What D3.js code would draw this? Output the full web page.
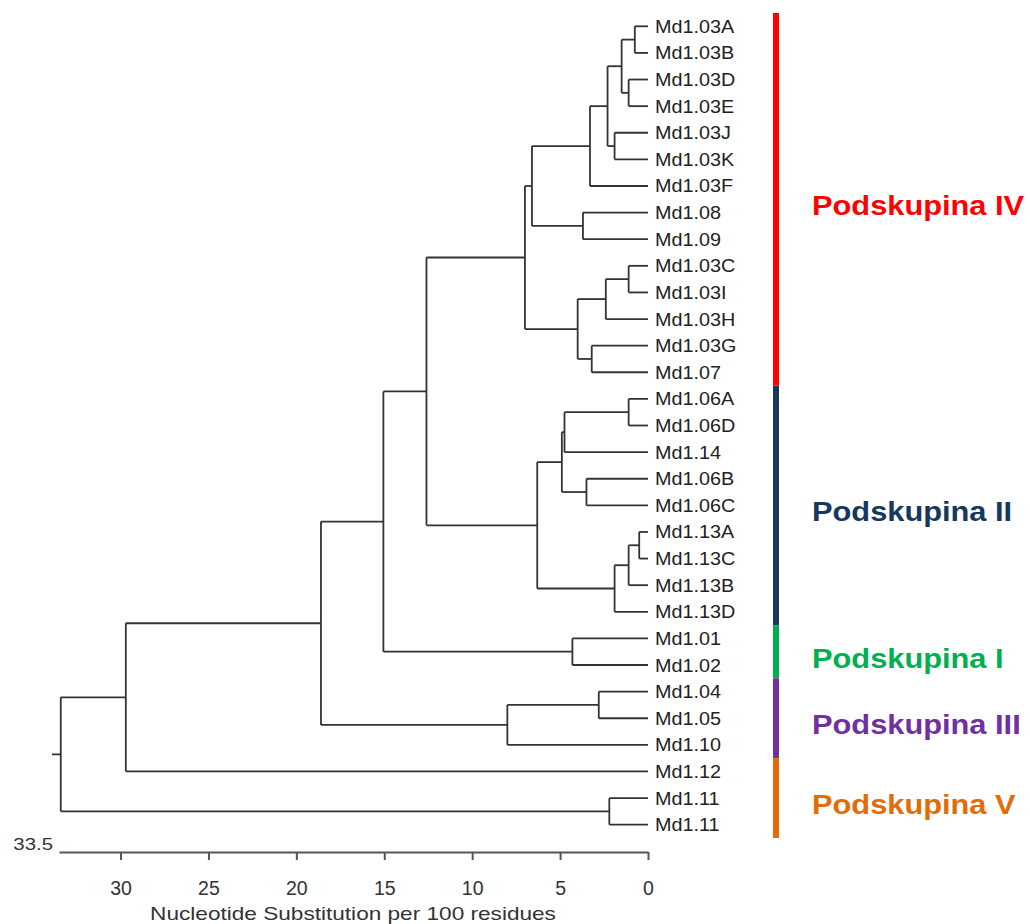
<!DOCTYPE html>
<html>
<head>
<meta charset="utf-8">
<script src="https://cdn.jsdelivr.net/npm/d3@7"></script>
<style>
  body { margin: 0; background: #fff; }
  svg { display: block; font-family: "Liberation Sans", Arial, sans-serif; }
</style>
</head>
<body>
<svg id="chart" width="1030" height="924"></svg>
<script>
// leaves in drawing order, top to bottom
var leaves = ["Md1.03A", "Md1.03B", "Md1.03D", "Md1.03E", "Md1.03J", "Md1.03K", "Md1.03F",
    "Md1.08", "Md1.09", "Md1.03C", "Md1.03I", "Md1.03H", "Md1.03G", "Md1.07",
    "Md1.06A", "Md1.06D", "Md1.14", "Md1.06B", "Md1.06C", "Md1.13A", "Md1.13C", "Md1.13B", "Md1.13D",
    "Md1.01", "Md1.02", "Md1.04", "Md1.05", "Md1.10", "Md1.12", "Md1.11", "Md1.11"];

// merges like hclust: negative = leaf (-1 is first leaf), positive = earlier merge (1-based)
var mergeA = [-1, -3, 1, -5, 3, 5, -8, 6, -10, 9, -13, 10, 8, -15, 14, -18, 15, -20, 18, 19, 17, 13, -24, 22, -26, 25, 24, 27, -30, 28];
var mergeB = [-2, -4, 2, -6, 4, -7, -9, 7, -11, -12, -14, 11, 12, -16, -17, -19, 16, -21, -22, -23, 20, 21, -25, 23, -27, -28, 26, -29, -31, 29];
var mergeH = [0.75, 1.1, 1.5, 1.9, 2.3, 3.3, 3.7, 6.6, 1.1, 2.4, 3.2, 4.0, 7.0, 1.1, 4.75, 3.5, 4.9, 0.5, 1.1, 1.9, 6.3, 12.6, 4.3, 15.05, 2.8, 8.0, 18.6, 29.7, 2.2, 33.4];

// subgroups: first and last leaf index
var groupNames = ["Podskupina IV", "Podskupina II", "Podskupina I", "Podskupina III", "Podskupina V"];
var groupStart = [0, 14, 23, 25, 28];
var groupEnd = [13, 22, 24, 27, 30];
var groupColors = ["#ff0000", "#17375e", "#00b050", "#7030a0", "#e36c09"];

var ticks = [30, 25, 20, 15, 10, 5, 0];
var axisMax = 33.5;

var svg = d3.select("#chart");

var x = d3.scaleLinear()
    .domain([axisMax, 0])
    .range([59, 648]);

var y = d3.scaleBand()
    .domain(d3.range(leaves.length))
    .range([13, 838]);

var leafY = i => y(i) + y.bandwidth() / 2;

// positions of nodes
var nodes = [];
function pos(k) {
    if (k < 0) return {x: x(0), y: leafY(-k - 1), h: 0};
    return nodes[k - 1];
}
for (var i = 0; i < mergeH.length; ++i) {
    var a = pos(mergeA[i]);
    var b = pos(mergeB[i]);
    nodes.push({x: x(mergeH[i]), y: (a.y + b.y) / 2, h: mergeH[i], a: a, b: b});
}

var tree = svg.append("g")
    .attr("fill", "none")
    .attr("stroke", "#333")
    .attr("stroke-width", 1.8);

nodes.forEach(function(n) {
    tree.append("line")
        .attr("x1", n.x).attr("x2", n.x)
        .attr("y1", n.a.y).attr("y2", n.b.y);
    [n.a, n.b].forEach(function(c) {
        tree.append("line")
            .attr("x1", n.x).attr("x2", c.x)
            .attr("y1", c.y).attr("y2", c.y);
    });
});

// root stub
var root = nodes[nodes.length - 1];
tree.append("line")
    .attr("x1", x(root.h + 0.5)).attr("x2", root.x)
    .attr("y1", root.y).attr("y2", root.y);

// leaf labels
svg.append("g")
    .selectAll("text")
    .data(leaves)
    .enter()
    .append("text")
    .attr("transform", (d, i) => "translate(" + (x(0) + 7) + "," + (leafY(i) + 6.5) + ") scale(1.1,1)")
    .attr("fill", "#222")
    .style("font-size", "18px")
    .text(d => d);

// subgroup bars and names
groupNames.forEach(function(g, i) {
    var top = y(groupStart[i]);
    var bot = y(groupEnd[i]) + y.bandwidth();
    svg.append("rect")
        .attr("x", 773)
        .attr("y", top)
        .attr("width", 6)
        .attr("height", bot - top)
        .attr("fill", groupColors[i]);
    svg.append("text")
        .attr("transform", "translate(812," + ((top + bot) / 2 + 16) + ") scale(1.1,1)")
        .attr("fill", groupColors[i])
        .style("font-size", "28px")
        .style("font-weight", "bold")
        .text(g);
});

// axis
var ax = d3.axisBottom(x)
    .tickValues(ticks)
    .tickSizeInner(8)
    .tickSizeOuter(0)
    .tickPadding(21);

var axg = svg.append("g")
    .attr("transform", "translate(0,852)")
    .call(ax);

axg.select(".domain").attr("stroke", "#555").attr("stroke-width", 2);
axg.selectAll(".tick line").attr("stroke", "#555").attr("stroke-width", 2);
axg.selectAll(".tick text")
    .attr("fill", "#333")
    .style("font-size", "19.5px")
    .style("font-family", "Liberation Sans, Arial, sans-serif");

svg.append("text")
    .attr("transform", "translate(53,850) scale(1.2,1)")
    .attr("text-anchor", "end")
    .attr("fill", "#333")
    .style("font-size", "17px")
    .text(axisMax);

svg.append("text")
    .attr("transform", "translate(353,920) scale(1.19,1)")
    .attr("text-anchor", "middle")
    .attr("fill", "#333")
    .style("font-size", "19px")
    .text("Nucleotide Substitution per 100 residues");
</script>
</body>
</html>
